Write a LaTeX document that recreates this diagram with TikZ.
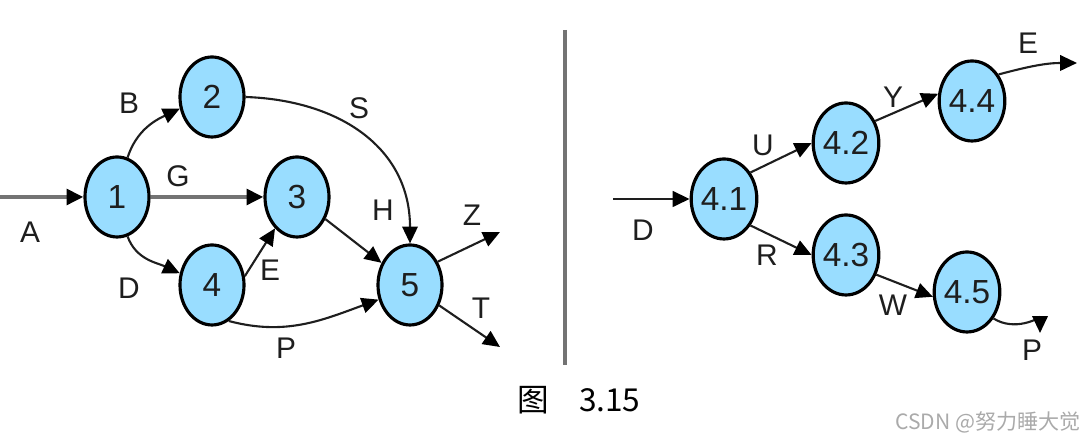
\documentclass[tikz,border=0pt]{standalone}
\usepackage{fontspec}
\setmainfont{Liberation Sans}
\newfontfamily\cjk{Noto Sans CJK SC}
\usetikzlibrary{arrows.meta,shapes.geometric}
\definecolor{EventBlue}{RGB}{153,221,255}
\definecolor{InkGrey}{RGB}{30,30,30}
\definecolor{RuleGrey}{RGB}{115,115,115}
\definecolor{MarkGrey}{RGB}{170,170,170}
\tikzset{
  flow/.style={-{Triangle[length=4.8pt,width=4.4pt,color=black]},line width=0.6pt,draw=InkGrey},
  greyflow/.style={-{Triangle[length=4.8pt,width=4.4pt,color=black]},line width=1.3pt,draw=RuleGrey},
  event/.style={ellipse,draw=black,line width=0.9pt,fill=EventBlue,
    minimum width=0.64cm,minimum height=0.80cm,inner sep=0pt,
    font=\fontsize{9.5}{11}\selectfont,text=InkGrey},
  lbl/.style={font=\fontsize{8.5}{10}\selectfont,text=InkGrey,inner sep=1pt}
}

\begin{document}
\begin{tikzpicture}
  \useasboundingbox (0,0) rectangle (10.8,4.4);
  % left network
  \node[event] (n1) at (1.17,2.43) {1};
  \node[event] (n2) at (2.12,3.43) {2};
  \node[event] (n3) at (2.97,2.43) {3};
  \node[event] (n4) at (2.12,1.55) {4};
  \node[event] (n5) at (4.10,1.55) {5};
  \coordinate (inA) at (0,2.43);
  \coordinate (outZ) at (5.00,2.08);
  \coordinate (outT) at (5.00,0.93);
  \draw[greyflow] (inA) -- (n1);
  \draw[greyflow] (n1) -- (n3);
  \draw[flow] (n1.75) to[out=72,in=205] (n2.200);
  \draw[flow] (n1.-75) to[out=-70,in=155] (n4.160);
  \draw[flow] (n2.east) to[out=-2,in=90,looseness=1.1] (n5.north);
  \draw[flow] (n3) -- (n5);
  \draw[flow] (n4.15) -- (n3.235);
  \draw[flow] (n4.-65) to[out=-15,in=200] (n5.205);
  \draw[flow] (n5.40) -- (outZ);
  \draw[flow] (n5.-35) -- (outT);
  \node[lbl] (lA) at (0.30,2.08) {A};
  \node[lbl] (lB) at (1.29,3.37) {B};
  \node[lbl] (lG) at (1.78,2.64) {G};
  \node[lbl] (lD) at (1.29,1.52) {D};
  \node[lbl] (lE) at (2.70,1.70) {E};
  \node[lbl] (lH) at (3.83,2.30) {H};
  \node[lbl] (lS) at (3.59,3.32) {S};
  \node[lbl] (lZ) at (4.72,2.25) {Z};
  \node[lbl] (lT) at (4.81,1.32) {T};
  \node[lbl] (lP) at (2.86,0.92) {P};
  % divider
  \draw[RuleGrey,line width=1.2pt] (5.65,4.10) -- (5.65,0.75);
  % right network
  \node[event] (n41) at (7.24,2.41) {4.1};
  \node[event] (n42) at (8.46,2.97) {4.2};
  \node[event] (n43) at (8.46,1.85) {4.3};
  \node[event] (n44) at (9.72,3.39) {4.4};
  \node[event] (n45) at (9.67,1.48) {4.5};
  \coordinate (inD) at (6.13,2.41);
  \coordinate (outE) at (10.77,3.77);
  \coordinate (outP) at (10.40,1.07);
  \draw[flow,line width=0.8pt] (inD) -- (n41);
  \draw[flow] (n41.45) -- (n42.180);
  \draw[flow] (n41.-45) -- (n43.180);
  \draw[flow] (n42.37) -- (n44.168);
  \draw[flow] (n43.-33) -- (n45.188);
  \draw[flow] (n44.45) to[out=15,in=180] (outE);
  \draw[flow] (n45.-45) .. controls (10.15,1.08) and (10.40,1.22) .. (outP);
  \node[lbl] (lD2) at (6.43,2.10) {D};
  \node[lbl] (lU) at (7.63,2.95) {U};
  \node[lbl] (lR) at (7.67,1.85) {R};
  \node[lbl] (lY) at (8.93,3.43) {Y};
  \node[lbl] (lW) at (8.93,1.35) {W};
  \node[lbl] (lE2) at (10.28,3.97) {E};
  \node[lbl] (lP2) at (10.32,0.90) {P};
  % caption and mark
  \node[font=\cjk\fontsize{9}{10}\selectfont] (caption) at (5.79,0.40) {图\hspace{0.3cm}3.15};
  \node[font=\cjk\fontsize{6}{7}\selectfont,text=MarkGrey] (mark) at (9.88,0.18) {CSDN @努力睡大觉};
\end{tikzpicture}
\end{document}
